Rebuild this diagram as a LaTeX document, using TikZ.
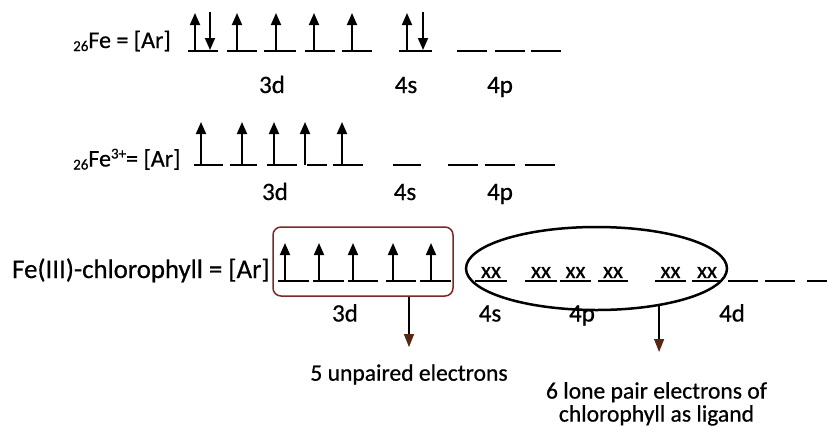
\documentclass[tikz,border=0pt]{standalone}
\usepackage{fontspec}
\setmainfont{Carlito}[FakeBold=0.6]
\usetikzlibrary{arrows.meta,shapes.geometric}
\definecolor{boxred}{RGB}{125,40,40}
\definecolor{tipbrown}{RGB}{85,40,20}
\begin{document}
\begin{tikzpicture}[x=1pt,y=-1pt,
  orb/.style={line width=1.8pt},
  eup/.style={line width=1.8pt,-{Triangle[length=12pt,width=10pt]}},
  lbl/.style={font=\fontsize{25}{28}\selectfont,inner sep=0pt,anchor=base},
  lefttext/.style={font=\fontsize{24}{28}\selectfont,inner sep=0pt,anchor=base west},
  xxtext/.style={font=\fontsize{23}{24}\selectfont,inner sep=0pt,anchor=base},
  ann/.style={font=\fontsize{23.6}{23}\selectfont,inner sep=0pt,align=center},
  pointer/.style={line width=1.3pt,-{Triangle[length=13pt,width=10pt,color=tipbrown]}}]
\path[use as bounding box,fill=white] (0,0) rectangle (827,426);
\newcommand{\subn}{{\fontsize{15}{15}\selectfont\raisebox{-3pt}{26}}}
% ---------- row 1 ----------
\node[lefttext] (fe) at (73,48) {\subn Fe = [Ar]};
\foreach \a/\b in {188/218,227/257,264/296,305/335,342/372,399/432,457/487,495/525,531/561}
  \draw[orb] (\a,51) -- (\b,51);
\foreach \x in {195,237,276,314,352,407} \draw[eup] (\x,51) -- (\x,13);
\foreach \x in {210,423} \draw[eup] (\x,12) -- (\x,50);
\node[lbl] (ra) at (272,93) {3d};
\node[lbl] (rb) at (406,93) {4s};
\node[lbl] (rc) at (500,93) {4p};
% ---------- row 2 ----------
\node[lefttext] (fe3) at (73,166.5) {\subn Fe\raisebox{8pt}{\fontsize{15}{15}\selectfont 3+}= [Ar]};
\foreach \a/\b in {194/223,230/257,267/297,307/327,333/363,393/421,448/478,485/515,525/555}
  \draw[orb] (\a,165) -- (\b,165);
\foreach \x in {201,242,274,305,342} \draw[eup] (\x,165) -- (\x,122);
\node[lbl] (sa) at (275,200) {3d};
\node[lbl] (sb) at (405,200) {4s};
\node[lbl] (sc) at (500,200) {4p};
% ---------- row 3 ----------
\node[lefttext,font=\fontsize{26.8}{30}\selectfont] (fec) at (12,278) {Fe(III)-chlorophyll = [Ar]};
\foreach \a/\b in {278/309,313/344,348/378,386/416,420/451,475/507,525/557,560/591,598/628,655/686,692/722,728/758,765/795,807/827}
  \draw[orb] (\a,281) -- (\b,281);
\foreach \x in {285,319,353,393,431} \draw[eup] (\x,281) -- (\x,243);
\foreach \n/\x in {x1/491,x2/541,x3/575.5,x4/613,x5/670.5,x6/707}
  \node[xxtext] (\n) at (\x,278) {xx};
\node[lbl] (ta) at (345,321.5) {3d};
\node[lbl] (tb) at (490,321.5) {4s};
\node[lbl] (tc) at (582,321.5) {4p};
\node[lbl] (td) at (732,321.5) {4d};
\node[draw=boxred,line width=1.5pt,rounded corners=8pt,minimum width=180pt,minimum height=69pt,inner sep=0pt] (box) at (363,261.5) {};
\node[ellipse,draw,line width=2.5pt,minimum width=261pt,minimum height=83pt,inner sep=0pt] (ell) at (596.5,268.5) {};
% ---------- annotations ----------
\node[ann,anchor=base] (lab5) at (409,380.7) {5 unpaired electrons};
\node[ann,anchor=north] (lab6) at (656.5,382) {6 lone pair electrons of\\chlorophyll as ligand};
\draw[pointer,shorten >=17pt] (box.south -| lab5.north) -- (lab5.north);
\draw[pointer,shorten >=30pt] (ell.-31) -- (ell.-31 |- lab6.north);
\end{tikzpicture}
\end{document}
